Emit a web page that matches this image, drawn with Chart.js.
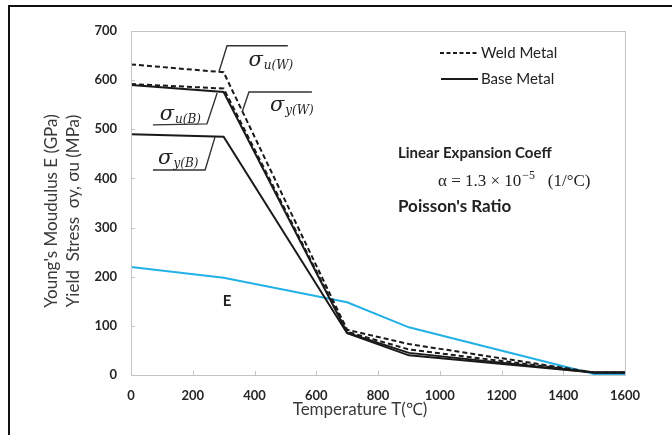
<!DOCTYPE html>
<html>
<head>
<meta charset="utf-8">
<script src="https://cdn.jsdelivr.net/npm/chart.js@4.4.1/dist/chart.umd.min.js"></script>
<style>
  html, body { margin: 0; padding: 0; background: #fff; overflow: hidden; }
  #wrap { position: relative; width: 672px; height: 435px; }
  #frame { position: absolute; left: 8px; top: 5px; width: 720px; height: 520px; border: 2px solid #111; box-sizing: border-box; }
  canvas { position: absolute; left: 0; top: 0; }
</style>
</head>
<body>
<div id="wrap">
  <div id="frame"></div>
  <canvas id="tempChart" width="672" height="435"></canvas>
</div>
<script>
// temperatures (deg C) where stress values are tabulated
const stressTemps = [0, 300, 700, 900, 1500, 1600];
const ultimateWeld = [632, 616, 92, 63, 5, 5];
const yieldWeld = [592, 583, 88, 52, 5, 5];
const ultimateBase = [590, 576, 86, 45, 5, 5];
const yieldBase = [490, 485, 85, 40, 5, 5];

// Young's modulus (GPa)
const modulusTemps = [0, 300, 500, 700, 900, 1500, 1600];
const modulusE = [220, 198, 173, 148, 97, 2, 2];

const xTicks = [0, 200, 400, 600, 800, 1000, 1200, 1400, 1600];
const yTicks = [0, 100, 200, 300, 400, 500, 600, 700];

const BLACK = "#1a1a1a";
const BLUE = "#22b1e6";
const GREY_TEXT = "#3a3a3a";

function pts(xs, ys) {
  return xs.map((x, i) => ({ x: x, y: ys[i] }));
}

// sigma labels with their leader lines, in data units (T, value)
const sigmaLabels = [
  { sub: "u(W)", at: [453, 636], leader: [[285, 617], [311, 670], [508, 670]] },
  { sub: "y(W)", at: [521, 546], leader: [[360, 535], [382, 576], [586, 576]] },
  { sub: "u(B)", at: [160, 527], leader: [[279, 574], [246, 511], [71, 509]] },
  { sub: "y(B)", at: [153, 437], leader: [[272, 484], [240, 417], [71, 417]] },
];

const decorations = {
  id: "decorations",
  afterDraw(chart) {
    const { ctx, chartArea: a, scales } = chart;
    const px = (v) => scales.x.getPixelForValue(v);
    const py = (v) => scales.y.getPixelForValue(v);
    ctx.save();

    // plot box and inward tick marks
    ctx.strokeStyle = "#c4c4c4";
    ctx.lineWidth = 1;
    ctx.strokeRect(a.left + 0.5, a.top + 0.5, a.right - a.left, a.bottom - a.top);
    ctx.beginPath();
    xTicks.forEach((t) => {
      const x = Math.round(px(t)) + 0.5;
      ctx.moveTo(x, a.bottom);
      ctx.lineTo(x, a.bottom - 4);
    });
    yTicks.forEach((t) => {
      const y = Math.round(py(t)) + 0.5;
      ctx.moveTo(a.left, y);
      ctx.lineTo(a.left + 4, y);
    });
    ctx.stroke();

    // axis titles
    ctx.fillStyle = GREY_TEXT;
    ctx.font = '17px Lato';
    ctx.textAlign = "center";
    ctx.textBaseline = "middle";
    ctx.fillText("Temperature T(\u2103)", 360, 410);
    ctx.save();
    ctx.translate(52, 211);
    ctx.rotate(-Math.PI / 2);
    ctx.fillText("Young's Moudulus E (GPa)", 0, 0);
    ctx.fillText("Yield  Stress  \u03c3y, \u03c3u (MPa)", 0, 22);
    ctx.restore();

    // legend
    ctx.strokeStyle = BLACK;
    ctx.lineWidth = 1.8;
    ctx.setLineDash([4, 2.5]);
    ctx.beginPath();
    ctx.moveTo(440, 53);
    ctx.lineTo(478, 53);
    ctx.stroke();
    ctx.setLineDash([]);
    ctx.beginPath();
    ctx.moveTo(441, 79);
    ctx.lineTo(478, 79);
    ctx.stroke();
    ctx.fillStyle = "#222";
    ctx.font = '15px Lato';
    ctx.textAlign = "left";
    ctx.fillText("Weld Metal", 481, 53);
    ctx.fillText("Base Metal", 481, 79);

    // material notes
    ctx.font = 'bold 15px Lato';
    ctx.fillText("Linear Expansion Coeff", 398, 153);
    ctx.font = 'bold 17px Lato';
    ctx.fillText("Poisson's Ratio", 398, 207);
    ctx.font = '17px "Liberation Serif"';
    ctx.textBaseline = "alphabetic";
    let x = 438;
    const base = 186;
    const part1 = "\u03b1 = 1.3 \u00d7 10";
    ctx.fillText(part1, x, base);
    x += ctx.measureText(part1).width;
    ctx.font = '12px "Liberation Serif"';
    ctx.fillText("\u22125", x + 1, base - 7);
    x += ctx.measureText("\u22125").width + 1;
    ctx.font = '17px "Liberation Serif"';
    ctx.fillText("   (1/\u00b0C)", x, base);

    // E label
    ctx.font = 'bold 15px Lato';
    ctx.textAlign = "center";
    ctx.textBaseline = "middle";
    ctx.fillText("E", px(311), py(151));

    // sigma labels and leader lines
    ctx.strokeStyle = "#333";
    ctx.lineWidth = 1.4;
    sigmaLabels.forEach((lab) => {
      ctx.beginPath();
      lab.leader.forEach((p, i) => {
        if (i === 0) ctx.moveTo(px(p[0]), py(p[1]));
        else ctx.lineTo(px(p[0]), py(p[1]));
      });
      ctx.stroke();

      ctx.font = 'italic 21px "DejaVu Serif"';
      const wSig = ctx.measureText("\u03c3").width;
      ctx.font = 'italic 12px "DejaVu Serif"';
      const wSub = ctx.measureText(lab.sub).width;
      const cx = px(lab.at[0]);
      const cy = py(lab.at[1]);
      const sx = cx - (wSig + wSub + 1) / 2;
      ctx.textAlign = "left";
      ctx.textBaseline = "alphabetic";
      ctx.fillStyle = "#222";
      ctx.font = 'italic 21px "DejaVu Serif"';
      ctx.fillText("\u03c3", sx, cy + 4);
      ctx.font = 'italic 12px "DejaVu Serif"';
      ctx.fillText(lab.sub, sx + wSig + 1, cy + 7);
    });

    ctx.restore();
  },
};

const tickFont = { family: "Lato", weight: "bold", size: 13 };
const plainNumber = (v) => String(v);

new Chart(document.getElementById("tempChart").getContext("2d"), {
  type: "line",
  data: {
    datasets: [
      { data: pts(stressTemps, ultimateWeld), borderColor: BLACK, borderWidth: 2, borderDash: [5, 3] },
      { data: pts(stressTemps, yieldWeld), borderColor: BLACK, borderWidth: 2, borderDash: [5, 3] },
      { data: pts(stressTemps, ultimateBase), borderColor: BLACK, borderWidth: 2 },
      { data: pts(stressTemps, yieldBase), borderColor: BLACK, borderWidth: 2 },
      { data: pts(modulusTemps, modulusE), borderColor: BLUE, borderWidth: 2 },
    ],
  },
  options: {
    responsive: false,
    animation: false,
    layout: { padding: { left: 0, right: 47, top: 31, bottom: 0 } },
    elements: { point: { radius: 0 }, line: { tension: 0, fill: false } },
    plugins: { legend: { display: false }, tooltip: { enabled: false } },
    scales: {
      x: {
        type: "linear",
        min: 0,
        max: 1600,
        afterBuildTicks: (s) => { s.ticks = xTicks.map((v) => ({ value: v })); },
        afterFit: (s) => { s.height = 60; },
        ticks: { padding: 13, color: "#262626", font: tickFont, callback: plainNumber },
        grid: { display: false, drawTicks: false },
        border: { color: "#c4c4c4" },
      },
      y: {
        type: "linear",
        min: 0,
        max: 700,
        afterBuildTicks: (s) => { s.ticks = yTicks.map((v) => ({ value: v })); },
        afterFit: (s) => { s.width = 131; },
        ticks: { padding: 14, color: "#262626", font: tickFont, callback: plainNumber },
        grid: { display: false, drawTicks: false },
        border: { color: "#c4c4c4" },
      },
    },
  },
  plugins: [decorations],
});
</script>
</body>
</html>
